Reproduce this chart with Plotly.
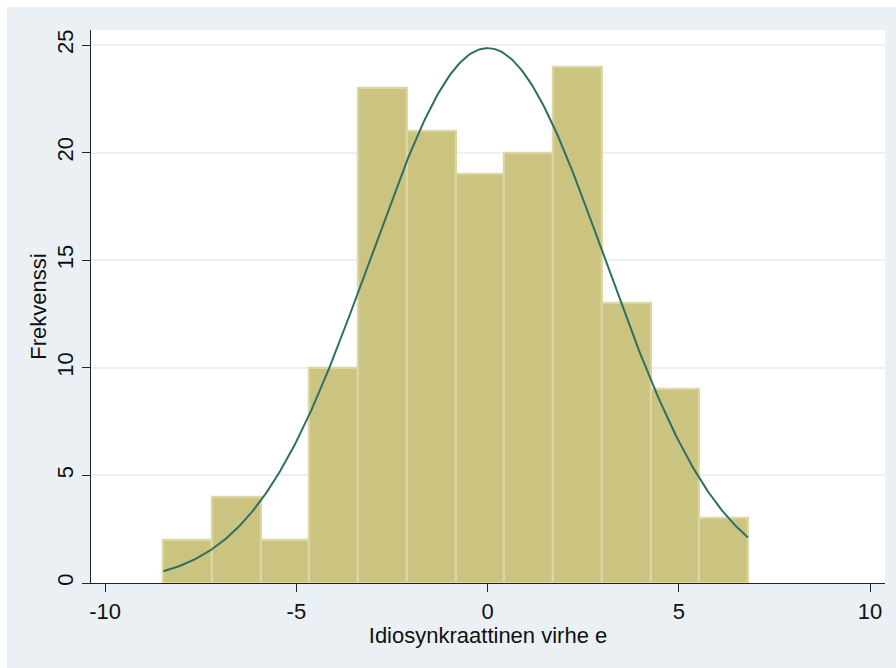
import numpy as np
import plotly.graph_objects as go

# Histogram of the idiosyncratic error e with a fitted normal density
counts = [2, 4, 2, 10, 23, 21, 19, 20, 24, 13, 9, 3]
bin_start = -8.48
bin_width = 1.274
e_mean = 0.0
e_sd = 3.067

x_ticks = [-10, -5, 0, 5, 10]
y_ticks = [0, 5, 10, 15, 20, 25]

n_obs = sum(counts)
centers = [bin_start + bin_width * (i + 0.5) for i in range(len(counts))]
x_min = bin_start
x_max = bin_start + bin_width * len(counts)

# Normal curve scaled to frequency units
xs = np.linspace(x_min, x_max, 300)
dens = np.exp(-0.5 * ((xs - e_mean) / e_sd) ** 2) / (e_sd * np.sqrt(2 * np.pi))
ys = dens * n_obs * bin_width

BG = "#EAF0F3"
FONT = "Liberation Sans, Arial, sans-serif"
FS = 22

fig = go.Figure()
fig.add_trace(go.Bar(
    x=centers, y=counts, width=bin_width,
    marker=dict(color="#CBC480", line=dict(color="#DCD7A2", width=2.2)),
    hoverinfo="x+y",
))
fig.add_trace(go.Scatter(
    x=xs, y=ys, mode="lines",
    line=dict(color="#2E6F64", width=2),
))

fig.update_layout(
    width=896, height=668,
    margin=dict(l=91, r=11, t=30, b=85),
    paper_bgcolor=BG, plot_bgcolor="white",
    showlegend=False,
    bargap=0,
    font=dict(family=FONT, size=FS, color="#111111"),
    shapes=[
        dict(type="rect", xref="paper", yref="paper",
             x0=-91 / 794, x1=1.2, y0=1 + 30 / 553, y1=1 + 23 / 553,
             fillcolor="white", line=dict(width=0), layer="below"),
        dict(type="rect", xref="paper", yref="paper",
             x0=-91 / 794, x1=-84 / 794, y0=-0.2, y1=1.1,
             fillcolor="white", line=dict(width=0), layer="below"),
    ],
)
fig.update_xaxes(
    range=[-10.37, 10.39],
    tickvals=x_ticks, ticktext=[str(v) for v in x_ticks],
    ticks="outside", ticklen=8, tickwidth=1.2, tickcolor="#222222",
    showline=True, linecolor="#222222", linewidth=1.2,
    showgrid=False, zeroline=False,
    tickfont=dict(size=FS),
    title=dict(text="Idiosynkraattinen virhe e", font=dict(size=FS), standoff=1),
)
fig.update_yaxes(
    range=[0, 25.7],
    tickvals=y_ticks, ticktext=[str(v) for v in y_ticks],
    tickangle=-90,
    ticks="outside", ticklen=8, tickwidth=1.2, tickcolor="#222222",
    showline=True, linecolor="#222222", linewidth=1.2,
    showgrid=True, gridcolor=BG, gridwidth=1.5,
    zeroline=False,
    tickfont=dict(size=FS),
    title=dict(text="Frekvenssi", font=dict(size=FS), standoff=0),
)

fig.write_html("out.html")
